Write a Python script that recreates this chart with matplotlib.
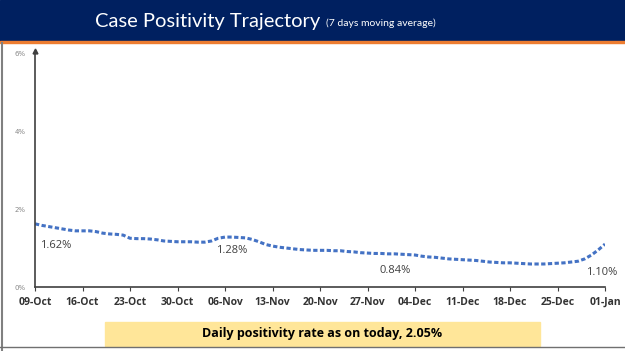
import matplotlib.pyplot as plt
import matplotlib.dates as mdates
import pandas as pd
from matplotlib.patches import Rectangle

# 7-day moving average positivity (%), one value per day from 09-Oct to 01-Jan
positivity = [
    1.62, 1.58, 1.55, 1.52, 1.49, 1.46, 1.44,
    1.44, 1.44, 1.42, 1.38, 1.36, 1.35, 1.33,
    1.25, 1.24, 1.24, 1.23, 1.21, 1.18, 1.17,
    1.16, 1.16, 1.16, 1.15, 1.15, 1.18, 1.25,
    1.28, 1.28, 1.27, 1.26, 1.22, 1.16, 1.09,
    1.05, 1.02, 1.00, 0.98, 0.96, 0.95, 0.94,
    0.94, 0.94, 0.93, 0.93, 0.91, 0.90, 0.88,
    0.87, 0.86, 0.86, 0.85, 0.85, 0.84, 0.83,
    0.82, 0.79, 0.77, 0.76, 0.74, 0.72, 0.71,
    0.70, 0.69, 0.68, 0.66, 0.64, 0.63, 0.62,
    0.62, 0.61, 0.60, 0.59, 0.59, 0.59, 0.60,
    0.61, 0.62, 0.64, 0.66, 0.72, 0.82, 0.95,
    1.10,
]
dates = pd.date_range("2020-10-09", "2021-01-01", freq="D")

# labelled points: (day index, text)
labels = [(0, "1.62%"), (28, "1.28%"), (54, "0.84%"), (84, "1.10%")]

y_ticks = [0, 2, 4, 6]

navy = "#002060"
blue = "#4472C4"

fig = plt.figure(figsize=(6.25, 3.51), dpi=100)

# header band
fig.patches.append(Rectangle((0, 1 - 41 / 351), 1, 41 / 351, transform=fig.transFigure,
                             color=navy, zorder=0))
fig.patches.append(Rectangle((0, 1 - 43 / 351), 1, 2 / 351, transform=fig.transFigure,
                             color="#ED7D31", zorder=0))
fig.text(0.152, 1 - 21 / 351, "Case Positivity Trajectory", color="white", fontsize=14.5,
         family="Lato", va="center", ha="left")
fig.text(0.522, 1 - 23 / 351, "(7 days moving average)", color="white", fontsize=7.5,
         family="Lato", va="center", ha="left")

# left border and bottom line
fig.add_artist(plt.Line2D([0.003, 0.003], [0.0, 1 - 43 / 351], color="#808080", lw=1.5))
fig.add_artist(plt.Line2D([0, 1], [4 / 351, 4 / 351], color="#707070", lw=1))

ax = fig.add_axes([35 / 625, 64 / 351, 570 / 625, 234 / 351])
ax.plot(dates, positivity, color=blue, lw=2.2, linestyle=(0, (1.4, 0.8)))

ax.set_xlim(dates[0], dates[-1])
ax.set_ylim(0, 6)
ax.set_yticks(y_ticks)
ax.set_yticklabels([f"{t}%" for t in y_ticks], fontsize=5, color="#888888")
ax.tick_params(axis="y", length=0, pad=7)

ax.set_xticks(dates[::7])
ax.xaxis.set_major_formatter(mdates.DateFormatter("%d-%b"))
ax.tick_params(axis="x", labelsize=7.5, length=3, color="#404040", pad=4)
for t in ax.get_xticklabels():
    t.set_fontweight("bold")
    t.set_color("#333333")
    t.set_family("Open Sans")

for s in ["top", "right"]:
    ax.spines[s].set_visible(False)
ax.spines["left"].set_color("#404040")
ax.spines["bottom"].set_color("#404040")
ax.spines["left"].set_linewidth(1.2)
ax.spines["bottom"].set_linewidth(1.2)
ax.plot(0, 1.01, marker="^", color="#404040", markersize=3.5,
        transform=ax.transAxes, clip_on=False)

# point labels
offsets = {0: (0.7, -0.55, "left"), 28: (1, -0.35, "center"),
           54: (-1, -0.42, "center"), 84: (-0.5, -0.72, "center")}
for i, txt in labels:
    dx, dy, ha = offsets[i]
    ax.text(dates[i] + pd.Timedelta(days=dx), positivity[i] + dy, txt, fontsize=8,
            color="#404040", ha=ha, va="center", family="Open Sans")
ax.plot([dates[84], dates[84]], [positivity[84] - 0.55, positivity[84] - 0.05],
        color="#A6A6A6", lw=0.6)

# bottom note
fig.patches.append(Rectangle((105 / 625, 5 / 351), 435 / 625, 24 / 351,
                             transform=fig.transFigure, color="#FFE699", zorder=0))
fig.text(322 / 625, 17 / 351, "Daily positivity rate as on today, 2.05%", fontsize=9,
         fontweight="bold", ha="center", va="center", family="Open Sans", color="black")

fig.savefig("out.png", dpi=100)
